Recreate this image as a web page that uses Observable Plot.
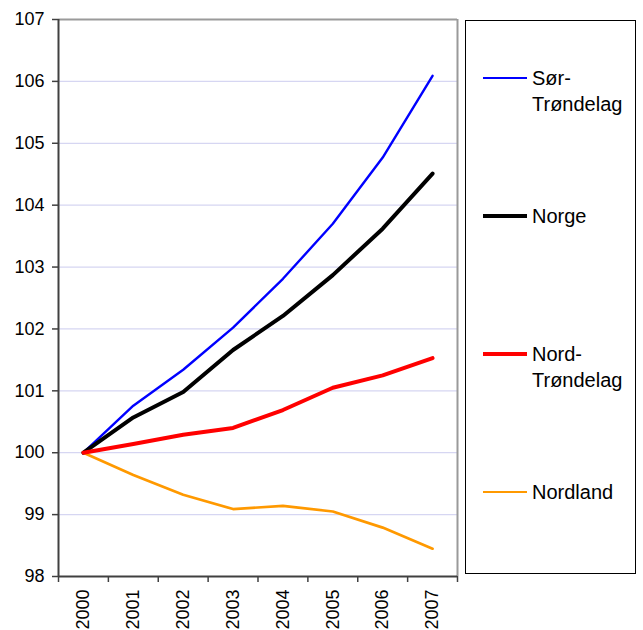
<!DOCTYPE html>
<html><head><meta charset="utf-8">
<script src="https://cdn.jsdelivr.net/npm/d3@7"></script>
<script src="https://cdn.jsdelivr.net/npm/@observablehq/plot@0.6"></script>
<style>
body{margin:0;background:#fff;font-family:"Liberation Sans",Arial,sans-serif}
#wrap{position:relative;width:643px;height:630px}
#legend{position:absolute;left:465px;top:20px;width:171px;height:554px;border:1.5px solid #000;box-sizing:border-box;background:#fff}
.item{position:absolute;left:0;width:168px;height:60px}
.sw{position:absolute;left:17px;width:44px}
.lab{position:absolute;left:66px;top:0;font-size:20px;line-height:26px;color:#000}
</style></head>
<body><div id="wrap"></div>
<script>
const years = [2000, 2001, 2002, 2003, 2004, 2005, 2006, 2007];
const seriesNames = ["Sør-Trøndelag", "Norge", "Nord-Trøndelag", "Nordland"];
const sorTrondelag = [100, 100.76, 101.34, 102.02, 102.81, 103.70, 104.77, 106.09];
const norge = [100, 100.57, 100.98, 101.66, 102.21, 102.87, 103.62, 104.51];
const nordTrondelag = [100, 100.14, 100.29, 100.40, 100.69, 101.05, 101.25, 101.53];
const nordland = [100, 99.64, 99.32, 99.09, 99.14, 99.05, 98.79, 98.45];
const yTicks = [98, 99, 100, 101, 102, 103, 104, 105, 106, 107];

const colors = ["#0000FF", "#000000", "#FF0000", "#FF9900"];
const widths = [2.4, 4, 4, 2.7];
const legendCenters = [77, 215, 353, 491];
const values = [sorTrondelag, norge, nordTrondelag, nordland];

const rows = seriesNames.map((s, i) => years.map((y, j) => ({series: s, year: y, value: values[i][j]})));
const xDomain = [years[0] - 0.5, years[years.length - 1] + 0.5];
const bounds = d3.range(xDomain[0], xDomain[1] + 0.01, 1);
const drawOrder = [3, 0, 1, 2];

const plot = Plot.plot({
  width: 643, height: 630,
  marginLeft: 58, marginRight: 186, marginTop: 19, marginBottom: 54,
  style: {fontFamily: "'Liberation Sans', Arial, sans-serif", fontSize: "18px", color: "#000", background: "#fff"},
  x: {domain: xDomain, axis: null},
  y: {domain: [yTicks[0], yTicks[yTicks.length - 1]], axis: null},
  marks: [
    Plot.ruleY(yTicks.slice(1, -1), {stroke: "#d6d6f2", strokeWidth: 1.2}),
    Plot.ruleY([yTicks[yTicks.length - 1]], {stroke: "#9a9a9a", strokeWidth: 2}),
    Plot.ruleX([xDomain[1]], {stroke: "#9a9a9a", strokeWidth: 2}),
    Plot.axisY(yTicks, {tickSize: 6, tickPadding: 8, stroke: "#404040", strokeWidth: 1.5, fontSize: 18, label: null, tickFormat: d => String(d)}),
    Plot.axisX(bounds, {tickSize: 6, tickFormat: () => "", stroke: "#404040", strokeWidth: 1.5, label: null}),
    Plot.axisX(years, {tickSize: 0, tickPadding: 13, tickRotate: -90, fontSize: 18, tickFormat: d => String(d), label: null}),
    ...drawOrder.map(i => Plot.line(rows[i], {x: "year", y: "value", stroke: colors[i], strokeWidth: widths[i], strokeLinejoin: "round", strokeLinecap: "round"})),
    Plot.ruleX([xDomain[0]], {stroke: "#404040", strokeWidth: 2}),
    Plot.ruleY([yTicks[0]], {stroke: "#404040", strokeWidth: 2})
  ]
});
const wrap = document.getElementById("wrap");
wrap.appendChild(plot);

const legend = document.createElement("div");
legend.id = "legend";
seriesNames.forEach((s, i) => {
  const item = document.createElement("div");
  item.className = "item";
  item.style.top = (legendCenters[i] - 20 - 13) + "px";
  const sw = document.createElement("div");
  sw.className = "sw";
  sw.style.background = colors[i];
  sw.style.height = widths[i] + "px";
  sw.style.top = (13 - widths[i] / 2) + "px";
  const lab = document.createElement("div");
  lab.className = "lab";
  const parts = s.includes("-") ? [s.slice(0, s.indexOf("-") + 1), s.slice(s.indexOf("-") + 1)] : [s];
  lab.innerHTML = parts.join("<br>");
  item.appendChild(sw);
  item.appendChild(lab);
  legend.appendChild(item);
});
wrap.appendChild(legend);
</script>
</body></html>
